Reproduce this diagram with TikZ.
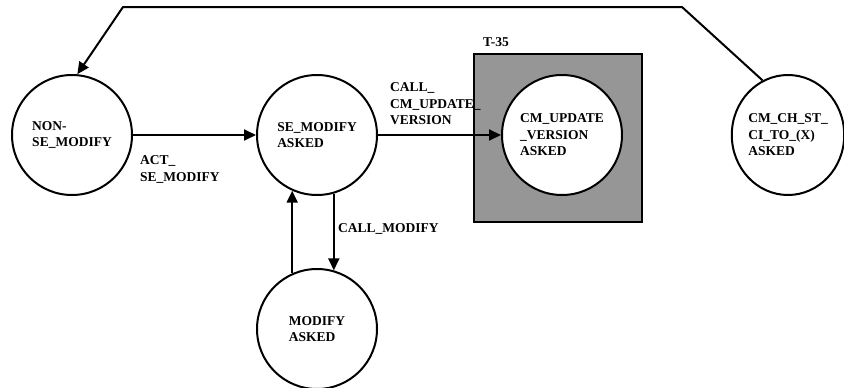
\documentclass[tikz,border=0pt]{standalone}
\usepackage{fontspec}
\setmainfont{Liberation Serif}
\usetikzlibrary{arrows.meta,positioning,shapes.geometric}
\definecolor{boxgray}{RGB}{150,150,150}

\begin{document}
\begin{tikzpicture}[
x=1pt,y=-1pt,
node distance=123pt,
font=\fontsize{13.5}{16.5}\selectfont\bfseries,
state/.style={draw,circle,line width=2pt,fill=white,minimum size=120pt,inner sep=0pt,align=left},
lbl/.style={anchor=north west,inner sep=0pt,align=left},
arrow/.style={-{Triangle[length=12pt,width=11pt]},line width=2pt}
]
\useasboundingbox (0,0) rectangle (844,388);

\node[draw,line width=2pt,fill=boxgray,minimum width=168pt,minimum height=168pt,inner sep=0pt] (t35box) at (558,138) {};
\node[lbl] (t35) at (483,37.5) {T-35};

\node[state] (nonse) at (72,135) {NON-\\SE\_MODIFY};
\node[state,right=of nonse] (semod) {SE\_MODIFY\\ASKED};
\node[state,right=of semod] (cmupd) {CM\_UPDATE\\\_VERSION\\ASKED};
\node[state,below=72pt of semod] (modask) {MODIFY\\ASKED};
\node[state,ellipse,minimum width=110pt,minimum height=120pt] (cmch) at (788,135) {CM\_CH\_ST\_\\CI\_TO\_(X)\\ASKED};

\coordinate (tr) at (682,7);
\coordinate (tl) at (123,7);

\draw[arrow] (nonse)--(semod);
\draw[arrow] (semod)--(cmupd);
\draw[arrow] (semod.-74.8)--(modask.74.8);
\draw[arrow] (modask.114.2)--(semod.-114.2);
\draw[arrow] (cmch.115)--(tr)--(tl)--(nonse.85);

\node[lbl] (actlbl) at (140,155.5) {ACT\_\\SE\_MODIFY};
\node[lbl] (calllbl) at (390,82.5) {CALL\_\\CM\_UPDATE\_\\VERSION};
\node[lbl] (modlbl) at (338,223.5) {CALL\_MODIFY};
\end{tikzpicture}
\end{document}
